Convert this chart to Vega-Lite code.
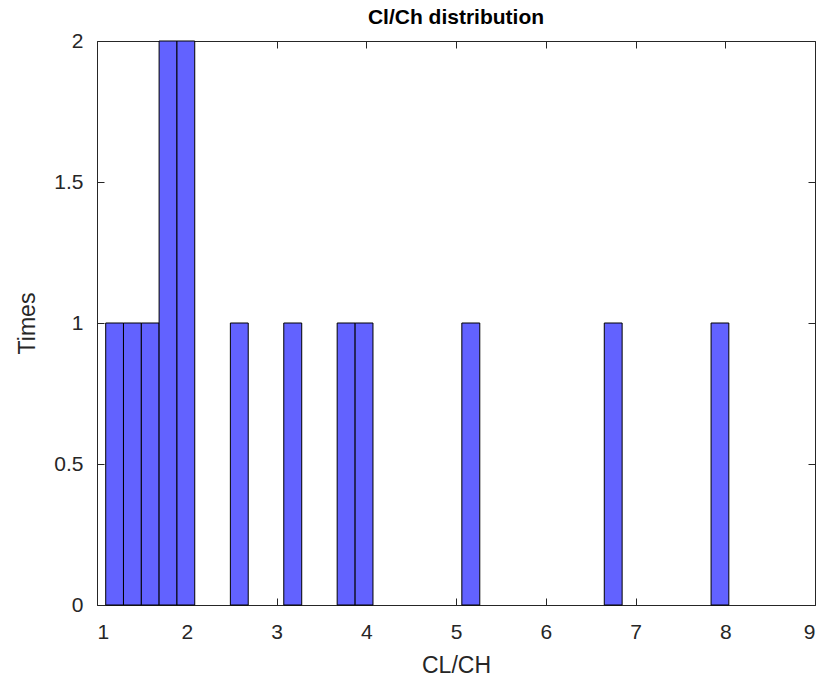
{
  "$schema": "https://vega.github.io/schema/vega-lite/v6.json",
  "autosize": "none",
  "width": 718,
  "height": 564,
  "padding": {"left": 97, "top": 41, "right": 10, "bottom": 87},
  "background": "white",
  "config": {
    "font": "Liberation Sans",
    "view": {"stroke": "#262626", "strokeWidth": 1},
    "axis": {"grid": false, "domain": false, "labelFont": "Liberation Sans", "titleFont": "Liberation Sans", "labelColor": "#262626", "titleColor": "#262626", "tickColor": "#262626", "labelFontSize": 21, "titleFontSize": 23, "titleFontWeight": "normal"}
  },
  "title": {"text": "Cl/Ch distribution", "fontSize": 21, "fontWeight": "bold", "color": "#000000", "offset": 2, "font": "Liberation Sans"},
  "data": {"values": [
    {"start": 1.097, "end": 1.295, "count": 1},
    {"start": 1.295, "end": 1.494, "count": 1},
    {"start": 1.494, "end": 1.692, "count": 1},
    {"start": 1.692, "end": 1.891, "count": 2},
    {"start": 1.891, "end": 2.089, "count": 2},
    {"start": 2.486, "end": 2.685, "count": 1},
    {"start": 3.081, "end": 3.281, "count": 1},
    {"start": 3.676, "end": 3.876, "count": 1},
    {"start": 3.876, "end": 4.075, "count": 1},
    {"start": 5.065, "end": 5.265, "count": 1},
    {"start": 6.652, "end": 6.851, "count": 1},
    {"start": 7.842, "end": 8.040, "count": 1}
  ]},
  "layer": [
    {
      "mark": {"type": "bar", "fill": "#6262ff", "stroke": "#000000", "strokeWidth": 1},
      "encoding": {
        "x": {"field": "start", "type": "quantitative", "scale": {"domain": [1, 9], "nice": false, "zero": false},
              "axis": {"orient": "bottom", "values": [1,2,3,4,5,6,7,8,9], "tickSize": -7, "labelPadding": 23, "title": "CL/CH", "titlePadding": 12}},
        "x2": {"field": "end"},
        "y": {"field": "count", "type": "quantitative", "scale": {"domain": [0, 2], "nice": false},
              "axis": {"orient": "left", "values": [0, 0.5, 1, 1.5, 2], "format": "~g", "tickSize": -7, "labelPadding": 21, "title": "Times", "titlePadding": 14}},
        "y2": {"datum": 0}
      }
    },
    {
      "mark": {"type": "bar", "opacity": 0},
      "encoding": {
        "x": {"field": "start", "type": "quantitative", "scale": {"domain": [1, 9], "nice": false, "zero": false},
              "axis": {"orient": "top", "values": [1,2,3,4,5,6,7,8,9], "tickSize": -7, "labels": false, "title": null}},
        "x2": {"field": "end"},
        "y": {"field": "count", "type": "quantitative", "scale": {"domain": [0, 2], "nice": false},
              "axis": {"orient": "right", "values": [0, 0.5, 1, 1.5, 2], "tickSize": -7, "labels": false, "title": null}},
        "y2": {"datum": 0}
      }
    }
  ],
  "resolve": {"axis": {"x": "independent", "y": "independent"}}
}
